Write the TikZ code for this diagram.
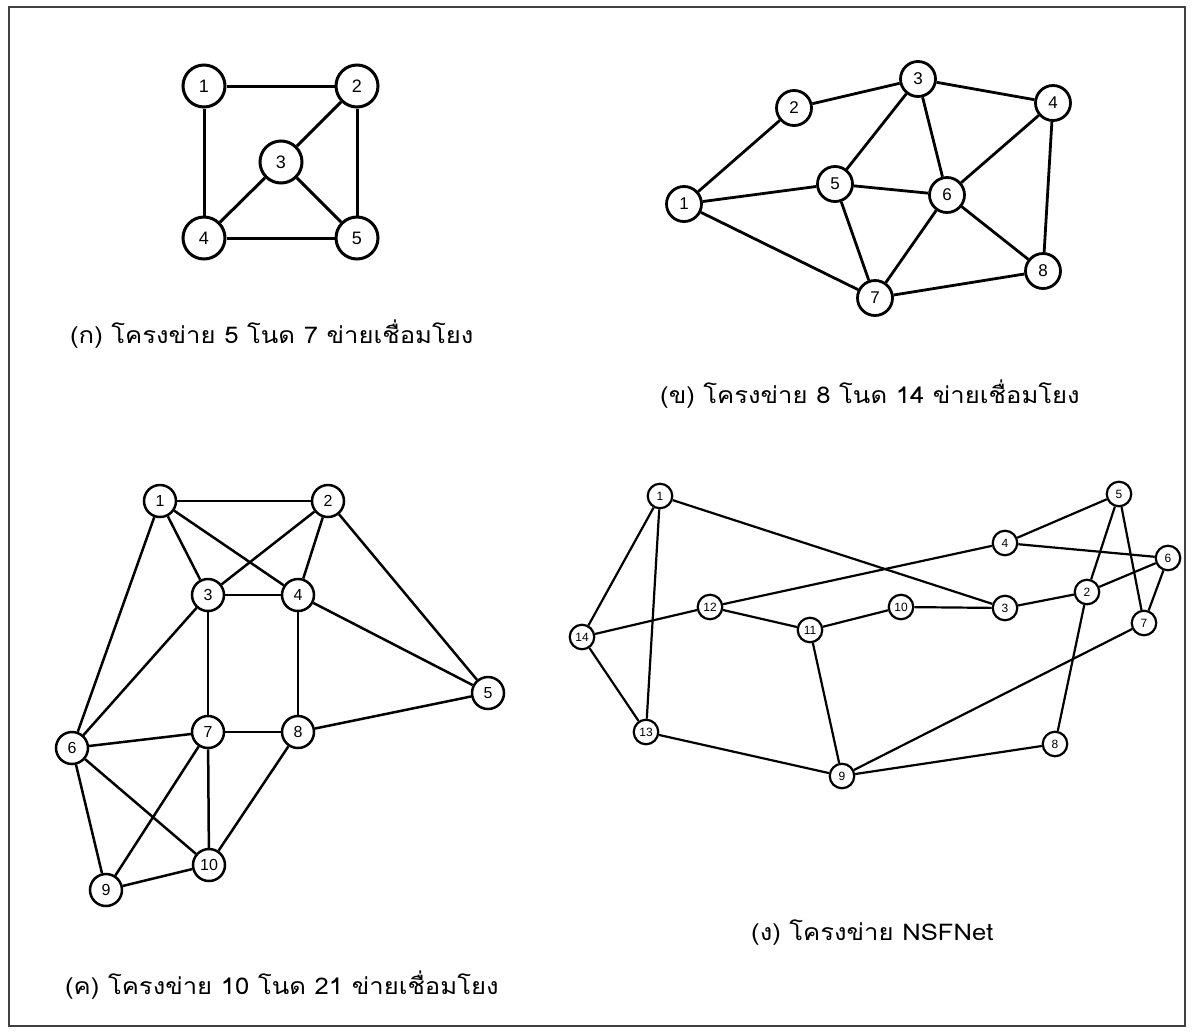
\documentclass[tikz,border=0pt]{standalone}
\usepackage{fontspec}
\setmainfont{Liberation Sans}
\newfontfamily\thaifont[Script=Thai,FakeStretch=1.115]{Loma}
\begin{document}
\begin{tikzpicture}[x=1pt,y=-1pt,
  na/.style={circle,draw,line width=3pt,minimum size=42pt,inner sep=0pt,font=\fontsize{18}{18}\selectfont},
  nb/.style={circle,draw,line width=2.8pt,minimum size=35pt,inner sep=0pt,font=\fontsize{17}{17}\selectfont},
  nc/.style={circle,draw,line width=2.5pt,minimum size=32pt,inner sep=0pt,font=\fontsize{16}{16}\selectfont},
  nd/.style={circle,draw,line width=2.2pt,minimum size=24.5pt,inner sep=0pt,font=\fontsize{12}{12}\selectfont},
  ea/.style={line width=3pt},
  eb/.style={line width=2.8pt},
  ec/.style={line width=2.5pt},
  ed/.style={line width=2.2pt},
  captxt/.style={anchor=base west,inner sep=0pt,font=\thaifont\fontsize{23}{23}\selectfont}
]
\useasboundingbox (0,0) rectangle (1193,1031);
\draw[line width=2pt,black!75] (9,7) rectangle (1185,1026);

% (a)
\node[na] (a1) at (204,86) {1};
\node[na] (a2) at (357,86) {2};
\node[na] (a3) at (281,162) {3};
\node[na] (a4) at (204,238) {4};
\node[na] (a5) at (357,238) {5};
\foreach \u/\v in {1/2,1/4,2/3,2/5,3/4,3/5,4/5}
  \draw[ea] (a\u) -- (a\v);
\node[captxt] (capa) at (70,343) {(ก) โครงข่าย 5 โนด 7 ข่ายเชื่อมโยง};

% (b)
\node[nb] (b1) at (684,204) {1};
\node[nb] (b2) at (794,108) {2};
\node[nb] (b3) at (918,79) {3};
\node[nb] (b4) at (1053,103) {4};
\node[nb] (b5) at (835,184) {5};
\node[nb] (b6) at (947,195) {6};
\node[nb] (b7) at (875,298) {7};
\node[nb] (b8) at (1043,271) {8};
\foreach \u/\v in {1/2,1/5,1/7,2/3,3/4,3/5,3/6,4/6,4/8,5/6,5/7,6/7,6/8,7/8}
  \draw[eb] (b\u) -- (b\v);
\node[captxt] (capb) at (660,403) {(ข) โครงข่าย 8 โนด 14 ข่ายเชื่อมโยง};

% (c)
\node[nc] (c1) at (160,501) {1};
\node[nc] (c2) at (328,501) {2};
\node[nc] (c3) at (208,595) {3};
\node[nc] (c4) at (298,595) {4};
\node[nc] (c5) at (488,693) {5};
\node[nc] (c6) at (72,748) {6};
\node[nc] (c7) at (208,732) {7};
\node[nc] (c8) at (298,732) {8};
\node[nc] (c9) at (106,890) {9};
\node[nc] (c10) at (209,865) {10};
\foreach \u/\v in {1/2,1/3,1/4,1/6,2/3,2/4,2/5,3/4,3/6,3/7,4/5,4/8,5/8,6/7,6/9,6/10,7/8,7/9,7/10,8/10,9/10}
  \draw[ec] (c\u) -- (c\v);
\node[captxt] (capc) at (65,994) {(ค) โครงข่าย 10 โนด 21 ข่ายเชื่อมโยง};

% (d) NSFNet
\node[nd] (d1) at (660,496) {1};
\node[nd] (d2) at (1087,592) {2};
\node[nd] (d3) at (1005,608) {3};
\node[nd] (d4) at (1005,543) {4};
\node[nd] (d5) at (1119,494) {5};
\node[nd] (d6) at (1168,558) {6};
\node[nd] (d7) at (1144,623) {7};
\node[nd] (d8) at (1055,744) {8};
\node[nd] (d9) at (842,776) {9};
\node[nd] (d10) at (901,607) {10};
\node[nd] (d11) at (810,630) {11};
\node[nd] (d12) at (710,607) {12};
\node[nd] (d13) at (646,732) {13};
\node[nd] (d14) at (582,637) {14};
\foreach \u/\v in {1/3,1/13,1/14,14/12,14/13,12/4,12/11,11/10,11/9,10/3,3/2,2/5,2/6,2/8,4/5,4/6,5/7,6/7,7/9,13/9,9/8}
  \draw[ed] (d\u) -- (d\v);
\node[captxt] (capd) at (751,940) {(ง) โครงข่าย NSFNet};
\end{tikzpicture}
\end{document}
